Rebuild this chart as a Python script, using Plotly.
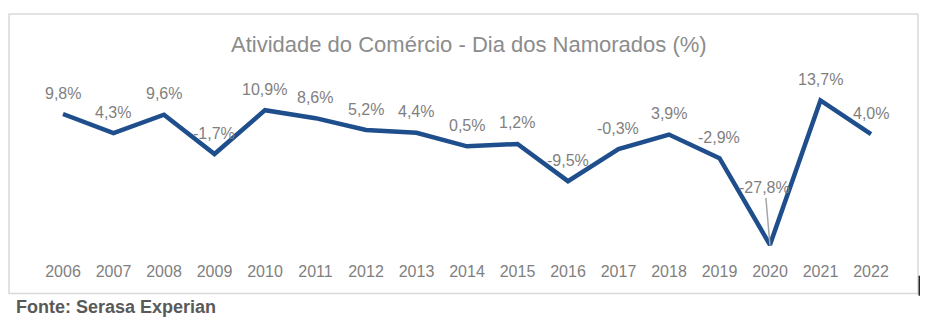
import plotly.graph_objects as go

years = [2006, 2007, 2008, 2009, 2010, 2011, 2012, 2013, 2014, 2015, 2016, 2017, 2018, 2019, 2020, 2021, 2022]
values = [9.8, 4.3, 9.6, -1.7, 10.9, 8.6, 5.2, 4.4, 0.5, 1.2, -9.5, -0.3, 3.9, -2.9, -27.8, 13.7, 4.0]
title_text = "Atividade do Comércio - Dia dos Namorados (%)"
source_text = "Fonte: Serasa Experian"

FONT = "Liberation Sans, Arial, sans-serif"
LABEL_COLOR = "#7f7f7f"

fig = go.Figure()
fig.add_trace(go.Scatter(
    x=years, y=values, mode="lines",
    line=dict(color="#1F4E8D", width=4.5),
    hoverinfo="skip",
))

annotations = []
for x, v in zip(years, values):
    txt = f"{v:.1f}%".replace(".", ",")
    if v == min(values):
        annotations.append(dict(
            x=x, y=v, xref="x", yref="y", text=txt, showarrow=True,
            arrowhead=0, arrowwidth=1.5, arrowcolor="#a6a6a6",
            ax=-5, ay=-57, font=dict(family=FONT, size=16, color=LABEL_COLOR),
        ))
    else:
        annotations.append(dict(
            x=x, y=v, xref="x", yref="y", text=txt, showarrow=False,
            yshift=21, font=dict(family=FONT, size=16, color=LABEL_COLOR),
        ))

annotations.append(dict(
    x=(468.5 - 9) / 909, y=(258 - 44) / 244, xref="paper", yref="paper",
    text=title_text, showarrow=False, xanchor="center", yanchor="middle",
    font=dict(family=FONT, size=22, color="#8c8c8c"),
))
annotations.append(dict(
    x=(14 - 9) / 909, y=(258 - 307) / 244, xref="paper", yref="paper",
    text="<b>" + source_text + "</b>", showarrow=False, xanchor="left", yanchor="middle",
    font=dict(family=FONT, size=18, color="#595959"),
))

shapes = [
    dict(type="rect", xref="paper", yref="paper", x0=0, x1=1,
         y0=-(293.5 - 258) / 244, y1=1, line=dict(color="#d9d9d9", width=1.5),
         layer="below"),
    dict(type="line", xref="paper", yref="paper", x0=1.0014, x1=1.0014,
         y0=-(295.7 - 258) / 244, y1=-(275.7 - 258) / 244,
         line=dict(color="#262626", width=1.5)),
]

fig.update_layout(
    width=934, height=324,
    margin=dict(l=9, r=16, t=14, b=66),
    paper_bgcolor="white", plot_bgcolor="white",
    showlegend=False,
    xaxis=dict(range=[2004.931, 2022.931], tickmode="array", tickvals=years,
               ticktext=[str(y) for y in years], showgrid=False, zeroline=False,
               showline=False, ticks="", ticklabelstandoff=2,
               tickfont=dict(family=FONT, size=16, color="#7f7f7f")),
    yaxis=dict(range=[-31.58, 38.536], showgrid=False, zeroline=False,
               showline=False, showticklabels=False, ticks=""),
    annotations=annotations,
    shapes=shapes,
)

fig.write_html("out.html")
